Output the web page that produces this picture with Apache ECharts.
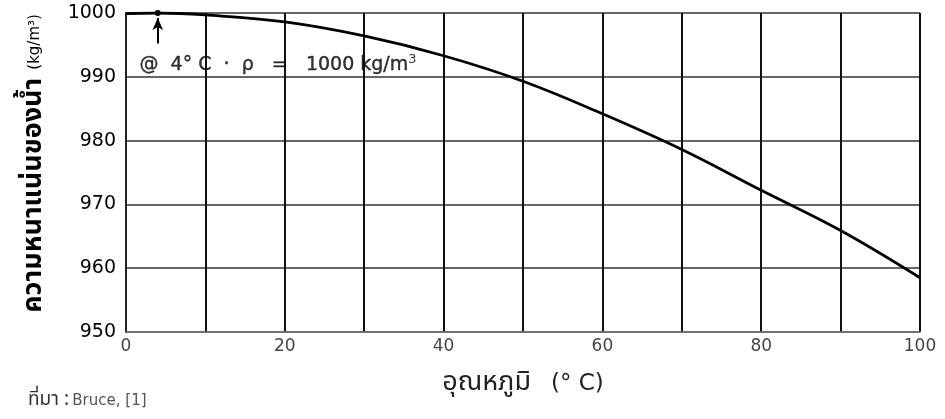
<!DOCTYPE html>
<html>
<head>
<meta charset="utf-8">
<script src="https://cdn.jsdelivr.net/npm/echarts@6/dist/echarts.min.js"></script>
<style>
html,body{margin:0;padding:0;background:#fff;}
#c{width:945px;height:419px;}
</style>
</head>
<body>
<div id="c"></div>
<script>
// Data
const temperatures = [0, 4, 10, 20, 30, 40, 50, 60, 70, 80, 90, 100];
const densities = [999.9, 1000.0, 999.7, 998.6, 996.4, 993.3, 989.3, 984.2, 978.6, 972.2, 965.9, 958.5];
const xTickLabels = [0, 20, 40, 60, 80, 100];
const yTickLabels = [950, 960, 970, 980, 990, 1000];
const maxPoint = [4, 1000];
const annotationMain = '@  4° C  ·  ρ   =   1000 kg/m';
const annotationSup = '3';
const yTitle = 'ความหนาแน่นของน้ำ';
const yUnit = '(kg/m³)';
const xTitle = 'อุณหภูมิ';
const xUnit = '(° C)';
const sourceThai = 'ที่มา :';
const sourceRef = 'Bruce, [1]';

const seriesData = temperatures.map((t, i) => [t, densities[i]]);
const font = '"DejaVu Sans", "Liberation Sans", sans-serif';
const thaiFont = '"Noto Sans Thai", "Loma", "Garuda", "Noto Sans", sans-serif';

const chart = echarts.init(document.getElementById('c'));
chart.setOption({
  animation: false,
  backgroundColor: '#fff',
  grid: {left: 126, right: 25, top: 13, bottom: 87, show: false},
  xAxis: {
    type: 'value', min: 0, max: 100, interval: 10,
    axisLine: {show: true, lineStyle: {color: '#777', width: 1.5}},
    axisTick: {show: false},
    axisLabel: {
      color: '#444', fontSize: 17, fontFamily: font, margin: 6,
      formatter: v => xTickLabels.includes(v) ? String(v) : ''
    },
    splitLine: {show: true, lineStyle: {color: '#111', width: 2}},
    name: '{t|' + xTitle + '}{u|' + xUnit + '}',
    nameLocation: 'middle', nameGap: 39,
    nameTextStyle: {
      rich: {
        t: {fontSize: 27, color: '#222', fontFamily: thaiFont},
        u: {fontSize: 23, color: '#222', fontFamily: font, padding: [0, 0, 0, 20]}
      }
    }
  },
  yAxis: {
    type: 'value', min: 950, max: 1000, interval: 10,
    axisLine: {show: true, lineStyle: {color: '#222', width: 2}},
    axisTick: {show: false},
    axisLabel: {
      fontSize: 19, fontFamily: font, margin: 10,
      formatter: v => yTickLabels.includes(v) ? String(v) : '',
      color: v => (v === 950 ? '#888' : '#000')
    },
    splitLine: {show: true, lineStyle: {color: '#333', width: 1.5}},
    name: '{t|' + yTitle + '}{u|' + yUnit + '}',
    nameLocation: 'middle', nameGap: 77, nameRotate: 90,
    nameTextStyle: {
      rich: {
        t: {fontSize: 27, fontWeight: 'bold', color: '#000', fontFamily: thaiFont, padding: [0, 0, 0, 18]},
        u: {fontSize: 15, color: '#000', fontFamily: font, padding: [0, 0, 0, 8]}
      }
    }
  },
  series: [
    {
      type: 'line',
      data: seriesData,
      smooth: 0.4,
      showSymbol: false,
      lineStyle: {color: '#000', width: 2.8},
      z: 5,
      markPoint: {
        symbol: 'circle', symbolSize: 6,
        itemStyle: {color: '#000'},
        label: {show: false},
        data: [{coord: maxPoint}]
      },
      markLine: {
        silent: true,
        symbol: ['none', 'arrow'], symbolSize: [8, 12],
        lineStyle: {color: '#000', width: 2, type: 'solid'},
        label: {show: false},
        data: [[{coord: [maxPoint[0], 995.2]}, {coord: [maxPoint[0], 999.2]}]]
      }
    },
    {
      type: 'scatter',
      data: [[1.7, 991.8]],
      symbolSize: 0,
      silent: true,
      z: 6,
      label: {
        show: true, position: 'right', distance: 0,
        formatter: '{n|' + annotationMain + '}{s|' + annotationSup + '}',
        rich: {
          n: {color: '#000', fontSize: 19, fontFamily: font, textBorderColor: '#000', textBorderWidth: 0.4},
          s: {color: '#000', fontSize: 13, fontFamily: font, padding: [0, 0, 11, 0]}
        }
      }
    }
  ],
  graphic: [{
    type: 'text', left: 28, top: 392,
    style: {
      rich: {
        a: {fontSize: 19, fontFamily: thaiFont, fill: '#333'},
        b: {fontSize: 15, fontFamily: font, fill: '#555'}
      },
      text: '{a|' + sourceThai + '} {b|' + sourceRef + '}'
    }
  }]
});
</script>
</body>
</html>
